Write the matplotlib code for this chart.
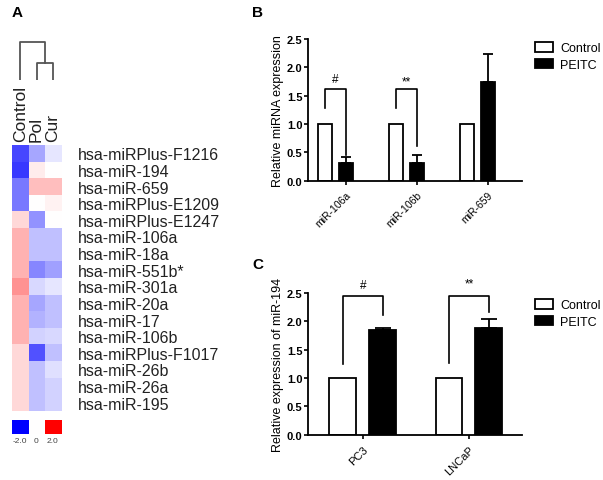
import numpy as np
import matplotlib
matplotlib.use("Agg")
import matplotlib.pyplot as plt

plt.rcParams['font.family'] = ['Liberation Sans', 'DejaVu Sans']

# ---- data ----
heat_cols = ["Control", "Pol", "Cur"]
heat_rows = ["hsa-miRPlus-F1216", "hsa-miR-194", "hsa-miR-659", "hsa-miRPlus-E1209",
             "hsa-miRPlus-E1247", "hsa-miR-106a", "hsa-miR-18a", "hsa-miR-551b*",
             "hsa-miR-301a", "hsa-miR-20a", "hsa-miR-17", "hsa-miR-106b",
             "hsa-miRPlus-F1017", "hsa-miR-26b", "hsa-miR-26a", "hsa-miR-195"]
heat_vals = [
    [-1.45, -0.7, -0.2],
    [-1.55, 0.15, 0.0],
    [-1.05, 0.5, 0.5],
    [-1.05, 0.0, 0.1],
    [0.3, -0.85, 0.0],
    [0.6, -0.5, -0.5],
    [0.6, -0.5, -0.5],
    [0.6, -0.95, -0.75],
    [0.85, -0.3, -0.2],
    [0.6, -0.7, -0.5],
    [0.6, -0.6, -0.5],
    [0.6, -0.35, -0.3],
    [0.3, -1.35, -0.5],
    [0.3, -0.5, -0.25],
    [0.3, -0.5, -0.35],
    [0.3, -0.5, -0.35],
]
dendro_heights = [1.0, 2.2]  # Pol-Cur merge, then Control

b_labels = ["miR-106a", "miR-106b", "miR-659"]
b_control = [1.0, 1.0, 1.0]
b_peitc = [0.32, 0.31, 1.75]
b_peitc_err = [0.10, 0.15, 0.48]

c_labels = ["PC3", "LNCaP"]
c_control = [1.0, 1.0]
c_peitc = [1.84, 1.88]
c_peitc_err = [0.05, 0.16]

W, H = 603, 481
fig = plt.figure(figsize=(W / 100, H / 100), dpi=100)


def px_axes(x0, y0, x1, y1):
    # axes from pixel box (top-left origin)
    return fig.add_axes([x0 / W, 1 - y1 / H, (x1 - x0) / W, (y1 - y0) / H])


# ---- panel A: heatmap ----
ax_h = px_axes(12, 146, 61, 412)
ax_h.imshow(np.array(heat_vals), cmap='bwr', vmin=-2, vmax=2, aspect='auto',
            interpolation='nearest')
ax_h.set_xticks([])
ax_h.yaxis.tick_right()
ax_h.set_yticks(range(len(heat_rows)))
ax_h.set_yticklabels(heat_rows, fontsize=11.5, color='#222222')
ax_h.tick_params(axis='y', length=0, pad=12)
for s in ax_h.spines.values():
    s.set_visible(False)
for i, name in enumerate(heat_cols):
    ax_h.text(i, -0.75, name, rotation=90, ha='center', va='bottom', fontsize=12.5,
              color='#222222')

# dendrogram
ax_d = px_axes(12, 42, 61, 81)
h1, h2 = dendro_heights
ax_d.plot([1, 1, 2, 2], [0, h1, h1, 0], color='#555555', lw=1.3)
ax_d.plot([0, 0, 1.5, 1.5], [0, h2, h2, h1], color='#555555', lw=1.3)
ax_d.set_xlim(-0.5, 2.5)
ax_d.set_ylim(0, h2 + 0.05)
ax_d.axis('off')

# colour key
ax_k = px_axes(12, 421, 61, 435)
ax_k.imshow(np.array([[-2.0, 0.0, 2.0]]), cmap='bwr', vmin=-2, vmax=2, aspect='auto')
ax_k.set_yticks([])
ax_k.set_xticks([0, 1, 2])
ax_k.set_xticklabels(["-2.0", "0", "2.0"], fontsize=6, color='#444444')
ax_k.tick_params(axis='x', length=0, pad=2)
for s in ax_k.spines.values():
    s.set_visible(False)

fig.text(12 / W, 1 - 13 / H, "A", fontsize=11, fontweight='bold', va='center')
fig.text(252 / W, 1 - 13 / H, "B", fontsize=11, fontweight='bold', va='center')
fig.text(252 / W, 1 - 265 / H, "C", fontsize=11, fontweight='bold', va='center')


def style_bar_axes(ax):
    ax.spines['top'].set_visible(False)
    ax.spines['right'].set_visible(False)
    ax.spines['left'].set_linewidth(1.3)
    ax.spines['bottom'].set_linewidth(1.3)
    ax.set_ylim(0, 2.5)
    ax.set_yticks([0, 0.5, 1.0, 1.5, 2.0, 2.5])
    ax.set_yticklabels(["0.0", "0.5", "1.0", "1.5", "2.0", "2.5"], fontsize=8,
                       fontweight='bold')
    ax.tick_params(axis='y', length=3, width=1.2, pad=1)
    ax.tick_params(axis='x', length=3, width=1.2)


def bracket(ax, x0, x1, y0, ytop, y1, text, ty):
    ax.plot([x0, x0, x1, x1], [y0, ytop, ytop, y1], color='black', lw=1.2,
            clip_on=False)
    ax.text((x0 + x1) / 2, ty, text, ha='center', va='center', fontsize=8.5,
            clip_on=False)


def add_legend(ax, handles, top_px):
    ax.legend(handles, ["Control", "PEITC"], loc='upper left',
              bbox_to_anchor=(535 / W, 1 - top_px / H), bbox_transform=fig.transFigure,
              frameon=False, fontsize=9, handlelength=1.4, handleheight=0.8,
              handletextpad=0.6, labelspacing=0.35, borderaxespad=0, borderpad=0)


# ---- panel B ----
ax_b = px_axes(308, 40, 522, 181.7)
xb = np.arange(len(b_labels))
bw, off = 0.19, 0.145
hb1 = ax_b.bar(xb - off, b_control, bw, color='white', edgecolor='black', lw=1.3)
hb2 = ax_b.bar(xb + off, b_peitc, bw, color='black', edgecolor='black', lw=1.3,
               yerr=[np.zeros(len(b_peitc)), b_peitc_err], capsize=3.5,
               error_kw=dict(elinewidth=1.3, capthick=1.3))
ax_b.set_xlim(-0.387, 2.627)
style_bar_axes(ax_b)
ax_b.set_xticks(xb + off)
ax_b.set_xticklabels(b_labels, rotation=45, ha='right', rotation_mode='anchor',
                     fontsize=7.5)
ax_b.set_ylabel("Relative miRNA expression", fontsize=9, labelpad=2)
bracket(ax_b, 0 - off, 0 + off, 1.28, 1.62, 0.45, "#", 1.79)
bracket(ax_b, 1 - off, 1 + off, 1.28, 1.62, 0.62, "**", 1.75)
add_legend(ax_b, [hb1, hb2], 43)

# ---- panel C ----
ax_c = px_axes(308, 294, 522, 435.7)
xc = np.arange(len(c_labels))
cw, coff = 0.254, 0.188
hc1 = ax_c.bar(xc - coff, c_control, cw, color='white', edgecolor='black', lw=1.3)
hc2 = ax_c.bar(xc + coff, c_peitc, cw, color='black', edgecolor='black', lw=1.3,
               yerr=[np.zeros(len(c_peitc)), c_peitc_err], capsize=5.5,
               error_kw=dict(elinewidth=1.3, capthick=1.3))
ax_c.set_xlim(-0.515, 1.499)
style_bar_axes(ax_c)
ax_c.set_xticks(xc)
ax_c.set_xticklabels(c_labels, rotation=45, ha='right', rotation_mode='anchor',
                     fontsize=8)
ax_c.set_ylabel("Relative expression of miR-194", fontsize=9, labelpad=2)
bracket(ax_c, 0 - coff, 0 + coff, 1.25, 2.45, 2.12, "#", 2.64)
bracket(ax_c, 1 - coff, 1 + coff, 1.26, 2.45, 2.16, "**", 2.66)
add_legend(ax_c, [hc1, hc2], 300)

fig.savefig("out.png", dpi=100)
